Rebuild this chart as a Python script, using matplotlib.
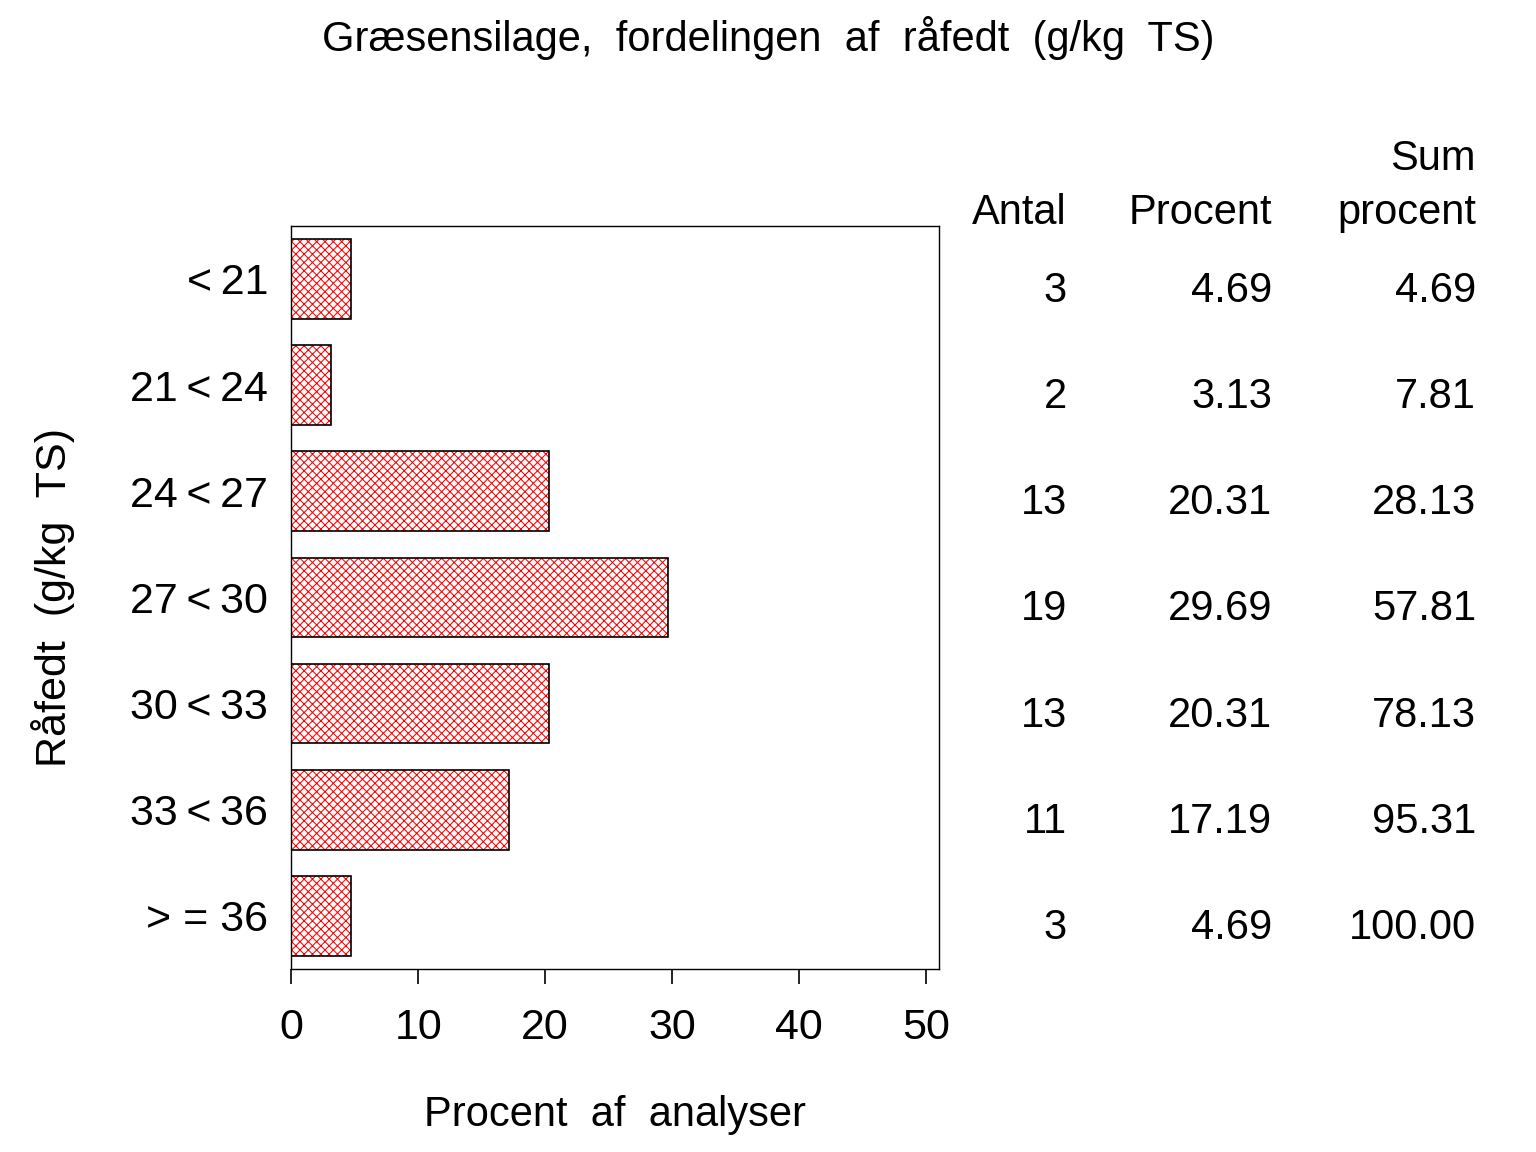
import numpy as np
import matplotlib.pyplot as plt

plt.rcParams['font.family'] = ['Liberation Sans', 'DejaVu Sans']
plt.rcParams['hatch.linewidth'] = 0.75

TS = '\u2009'  # thin space
categories = ['<' + TS + '21', '21' + TS + '<' + TS + '24', '24' + TS + '<' + TS + '27',
              '27' + TS + '<' + TS + '30', '30' + TS + '<' + TS + '33', '33' + TS + '<' + TS + '36',
              '> = 36']
antal = [3, 2, 13, 19, 13, 11, 3]
procent = [4.69, 3.13, 20.31, 29.69, 20.31, 17.19, 4.69]
sum_procent = [4.69, 7.81, 28.13, 57.81, 78.13, 95.31, 100.00]
xticks = [0, 10, 20, 30, 40, 50]

fig = plt.figure(figsize=(15.36, 11.52), dpi=100)
ax = fig.add_axes([0.1895, 0.1589, 0.4219, 0.645])

y = np.arange(len(categories))
# hatch in red, outline in black
ax.barh(y, procent, height=0.75, color='white', edgecolor='red', hatch='xxxx', linewidth=0)
ax.barh(y, procent, height=0.75, fill=False, edgecolor='black', linewidth=1.2)

ax.set_ylim(len(categories) - 0.5, -0.5)
ax.set_xlim(0, 51)
ax.set_xticks(xticks)
ax.set_xticklabels([str(t) for t in xticks], fontsize=31)
ax.set_yticks(y)
ax.set_yticklabels(categories, fontsize=31)
ax.tick_params(axis='y', length=0, pad=16.5)
ax.tick_params(axis='x', length=11, width=1.2, pad=17, direction='out')
for s in ax.spines.values():
    s.set_linewidth(1.0)

ax.set_xlabel('Procent  af  analyser', fontsize=30, labelpad=34)
ax.set_ylabel('Råfedt  (g/kg  TS)', fontsize=31, labelpad=40)

fig.text(0.5, 0.967, 'Græsensilage,  fordelingen  af  råfedt  (g/kg  TS)',
         ha='center', va='center', fontsize=30)

# side table, rows sit a little below the bar centres
cols_x = [1067 / 1536, 1272 / 1536, 1476 / 1536]
for i, (a, p, sp) in enumerate(zip(antal, procent, sum_procent)):
    yd = ax.transData.transform((0, y[i]))[1] - 12
    yf = fig.transFigure.inverted().transform((0, yd))[1]
    for cx, txt in zip(cols_x, [str(a), f'{p:.2f}', f'{sp:.2f}']):
        fig.text(cx, yf, txt, ha='right', va='center', fontsize=30)

fig.text(cols_x[0], 1 - 213 / 1152, 'Antal', ha='right', va='center', fontsize=30)
fig.text(cols_x[1], 1 - 213 / 1152, 'Procent', ha='right', va='center', fontsize=30)
fig.text(cols_x[2], 1 - 213 / 1152, 'procent', ha='right', va='center', fontsize=30)
fig.text(cols_x[2], 1 - 159 / 1152, 'Sum', ha='right', va='center', fontsize=30)

fig.savefig('out.png', dpi=100)
